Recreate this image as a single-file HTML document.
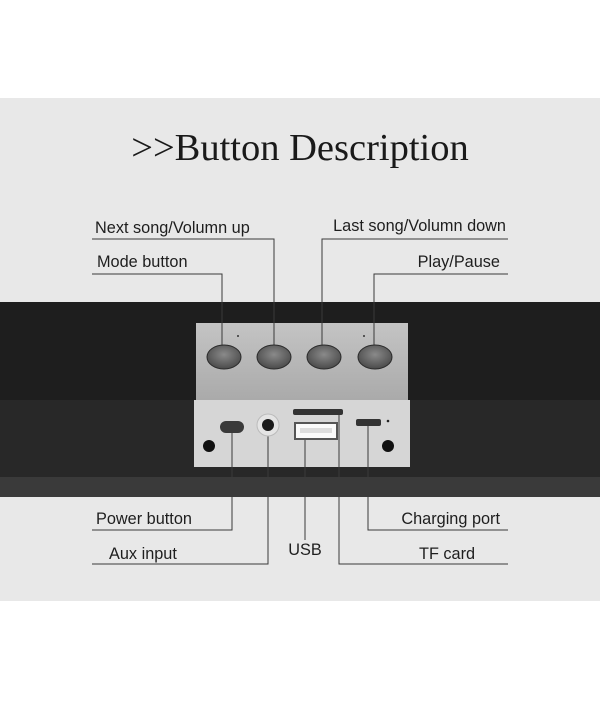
<!DOCTYPE html>
<html><head><meta charset="utf-8"><style>
html,body{margin:0;padding:0;background:#fff;}
svg{display:block;}
text{font-family:"Liberation Sans",sans-serif;font-size:16.3px;fill:#1e1e1e;}
</style></head><body>
<svg width="600" height="702" viewBox="0 0 600 702" xmlns="http://www.w3.org/2000/svg">
<defs>
<radialGradient id="btn" cx="50%" cy="40%" r="60%"><stop offset="0" stop-color="#8a8a8a"/><stop offset="1" stop-color="#4a4a4a"/></radialGradient>
<linearGradient id="top" x1="0" y1="0" x2="0" y2="1"><stop offset="0" stop-color="#c4c4c4"/><stop offset="1" stop-color="#aaaaaa"/></linearGradient>
</defs>
<rect x="0" y="0" width="600" height="98" fill="#fff"/>
<rect x="0" y="98" width="600" height="503" fill="#e8e8e8"/>
<text x="300" y="160" text-anchor="middle" style="font-family:'Liberation Serif',serif;font-size:38.5px;fill:#1a1a1a">&gt;&gt;Button Description</text>
<rect x="0" y="302" width="600" height="98" fill="#1e1e1e"/>
<rect x="0" y="400" width="600" height="77" fill="#282828"/>
<rect x="0" y="477" width="600" height="20" fill="#3a3a3a"/>
<rect x="196" y="323" width="212" height="77" fill="url(#top)"/>
<rect x="194" y="400" width="216" height="67" fill="#d6d6d6"/>
<circle cx="238" cy="336" r="1" fill="#333"/><circle cx="364" cy="336" r="1" fill="#333"/>
<g fill="none" stroke="#3a3a3a" stroke-width="1">
<polyline points="92,239 274,239 274,346"/>
<polyline points="92,274 222,274 222,346"/>
<polyline points="508,239 322,239 322,346"/>
<polyline points="508,274 374,274 374,346"/>
<polyline points="92,530 232,530 232,427"/>
<polyline points="92,564 268,564 268,425"/>
<polyline points="305,431 305,540"/>
<polyline points="508,564 339,564 339,412"/>
<polyline points="508,530 368,530 368,423"/>
</g>
<g stroke="#2a2a2a" stroke-width="1">
<ellipse cx="224" cy="357" rx="17" ry="12" fill="url(#btn)"/>
<ellipse cx="274" cy="357" rx="17" ry="12" fill="url(#btn)"/>
<ellipse cx="324" cy="357" rx="17" ry="12" fill="url(#btn)"/>
<ellipse cx="375" cy="357" rx="17" ry="12" fill="url(#btn)"/>
</g>
<rect x="220" y="421" width="24" height="12" rx="6" fill="#3a3a3a"/>
<circle cx="268" cy="425" r="11" fill="#e4e4e4" stroke="#bbb"/>
<circle cx="268" cy="425" r="6" fill="#1a1a1a"/>
<rect x="293" y="409" width="50" height="6" rx="2" fill="#333"/>
<rect x="295" y="423" width="42" height="16" fill="#fafafa" stroke="#555" stroke-width="2"/>
<rect x="300" y="428" width="32" height="5" fill="#ddd"/>
<rect x="356" y="419" width="25" height="7" rx="2" fill="#333"/>
<circle cx="388" cy="421" r="1.3" fill="#222"/>
<circle cx="209" cy="446" r="6" fill="#111"/>
<circle cx="388" cy="446" r="6" fill="#111"/>
<text x="95" y="233">Next song/Volumn up</text>
<text x="97" y="267">Mode button</text>
<text x="506" y="231" text-anchor="end">Last song/Volumn down</text>
<text x="500" y="267" text-anchor="end">Play/Pause</text>
<text x="96" y="524">Power button</text>
<text x="109" y="559">Aux input</text>
<text x="500" y="524" text-anchor="end">Charging port</text>
<text x="419" y="559">TF card</text>
<text x="305" y="555" text-anchor="middle">USB</text>
</svg>
</body></html>
